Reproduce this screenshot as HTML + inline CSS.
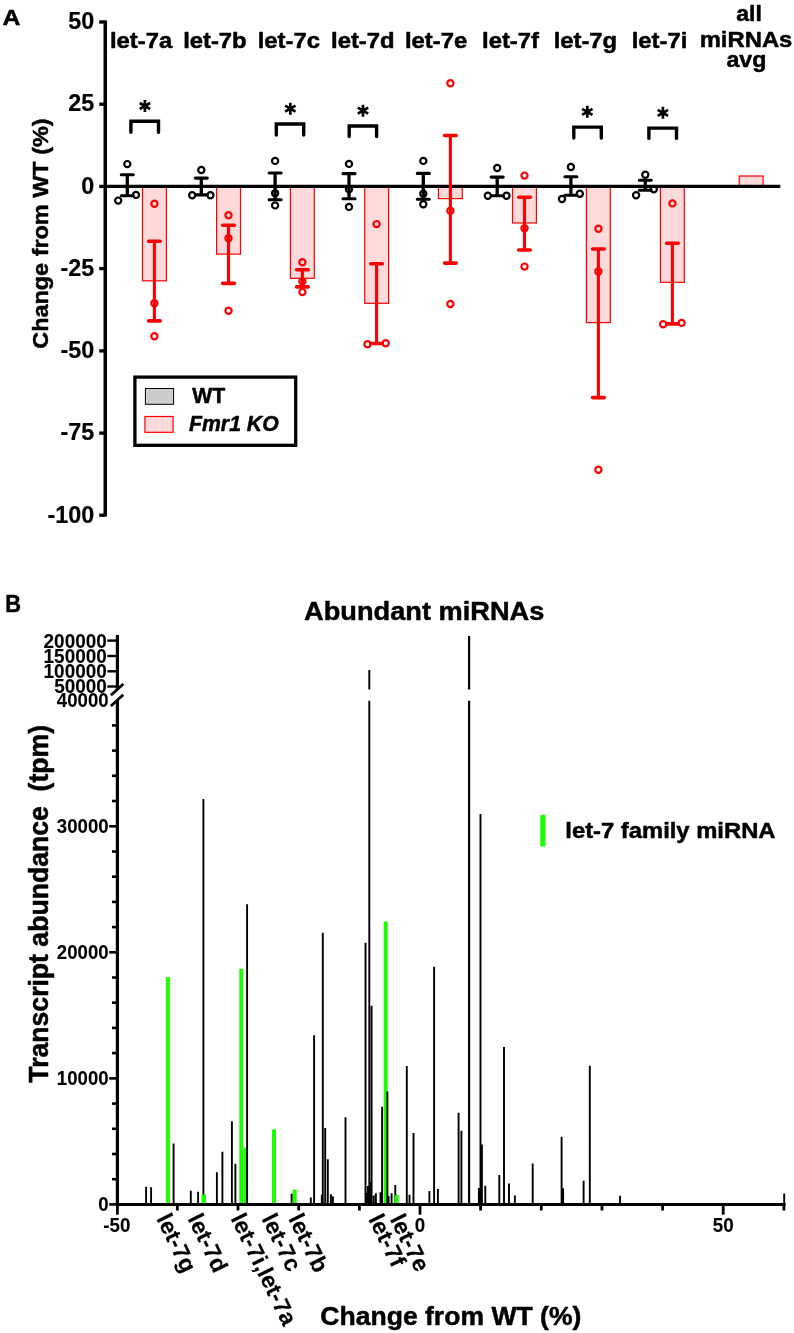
<!DOCTYPE html>
<html><head><meta charset="utf-8"><title>Figure</title>
<style>
html,body{margin:0;padding:0;background:#fff;}
svg{display:block;font-family:"Liberation Sans", sans-serif;will-change:transform;}
text{font-family:"Liberation Sans", sans-serif;fill:#000;stroke:#000;stroke-width:0.5px;stroke-linejoin:round;}
</style></head>
<body>
<svg width="794" height="1333" viewBox="0 0 794 1333">
<rect x="0" y="0" width="794" height="1333" fill="#fff"/>
<line x1="105.25" y1="20.5" x2="105.25" y2="516.4" stroke="#000" stroke-width="3.5"/>
<line x1="99.2" y1="22.0" x2="105.25" y2="22.0" stroke="#000" stroke-width="3.3"/>
<text transform="translate(94.2,29.2) scale(0.95,1.0)" font-size="24.6" font-weight="bold" text-anchor="end" style="stroke-width:0.2px">50</text>
<line x1="99.2" y1="104.2" x2="105.25" y2="104.2" stroke="#000" stroke-width="3.3"/>
<text transform="translate(94.2,111.4) scale(0.95,1.0)" font-size="24.6" font-weight="bold" text-anchor="end" style="stroke-width:0.2px">25</text>
<line x1="99.2" y1="186.4" x2="105.25" y2="186.4" stroke="#000" stroke-width="3.3"/>
<text transform="translate(94.2,193.6) scale(0.95,1.0)" font-size="24.6" font-weight="bold" text-anchor="end" style="stroke-width:0.2px">0</text>
<line x1="99.2" y1="268.6" x2="105.25" y2="268.6" stroke="#000" stroke-width="3.3"/>
<text transform="translate(94.2,275.8) scale(0.95,1.0)" font-size="24.6" font-weight="bold" text-anchor="end" style="stroke-width:0.2px">-25</text>
<line x1="99.2" y1="350.9" x2="105.25" y2="350.9" stroke="#000" stroke-width="3.3"/>
<text transform="translate(94.2,358.1) scale(0.95,1.0)" font-size="24.6" font-weight="bold" text-anchor="end" style="stroke-width:0.2px">-50</text>
<line x1="99.2" y1="433.1" x2="105.25" y2="433.1" stroke="#000" stroke-width="3.3"/>
<text transform="translate(94.2,440.2) scale(0.95,1.0)" font-size="24.6" font-weight="bold" text-anchor="end" style="stroke-width:0.2px">-75</text>
<line x1="99.2" y1="515.2" x2="105.25" y2="515.2" stroke="#000" stroke-width="3.3"/>
<text transform="translate(94.2,522.5) scale(0.95,1.0)" font-size="24.6" font-weight="bold" text-anchor="end" style="stroke-width:0.2px">-100</text>
<text transform="translate(47.9,233.6) rotate(-90) scale(1.0,0.975)" font-size="23.45" font-weight="bold" text-anchor="middle">Change from WT (%)</text>
<text transform="translate(2.5,24.7) scale(1.11,1.0)" font-size="22.3" font-weight="bold" text-anchor="start">A</text>
<text transform="translate(141.1,47.7) scale(1.078,1.0)" font-size="22.1" font-weight="bold" text-anchor="middle">let-7a</text>
<text transform="translate(214.9,47.7) scale(1.078,1.0)" font-size="22.1" font-weight="bold" text-anchor="middle">let-7b</text>
<text transform="translate(288.8,47.7) scale(1.078,1.0)" font-size="22.1" font-weight="bold" text-anchor="middle">let-7c</text>
<text transform="translate(362.8,47.7) scale(1.078,1.0)" font-size="22.1" font-weight="bold" text-anchor="middle">let-7d</text>
<text transform="translate(436.1,47.7) scale(1.078,1.0)" font-size="22.1" font-weight="bold" text-anchor="middle">let-7e</text>
<text transform="translate(510.5,47.7) scale(1.078,1.0)" font-size="22.1" font-weight="bold" text-anchor="middle">let-7f</text>
<text transform="translate(585.4,47.7) scale(1.078,1.0)" font-size="22.1" font-weight="bold" text-anchor="middle">let-7g</text>
<text transform="translate(659.5,47.7) scale(1.078,1.0)" font-size="22.1" font-weight="bold" text-anchor="middle">let-7i</text>
<text transform="translate(749.1,21.0) scale(1.045,1.0)" font-size="22.0" font-weight="bold" text-anchor="middle">all</text>
<text transform="translate(746.0,46.8) scale(1.055,1.0)" font-size="22.6" font-weight="bold" text-anchor="middle">miRNAs</text>
<text transform="translate(746.4,66.9) scale(1.04,1.0)" font-size="22.3" font-weight="bold" text-anchor="middle">avg</text>
<rect x="142.5" y="186.4" width="23.9" height="94.4" fill="#ffdada" stroke="#ff0000" stroke-width="1.2"/>
<rect x="216.6" y="186.4" width="23.9" height="67.7" fill="#ffdada" stroke="#ff0000" stroke-width="1.2"/>
<rect x="290.4" y="186.4" width="23.9" height="91.9" fill="#ffdada" stroke="#ff0000" stroke-width="1.2"/>
<rect x="364.7" y="186.4" width="23.9" height="116.9" fill="#ffdada" stroke="#ff0000" stroke-width="1.2"/>
<rect x="438.4" y="186.4" width="23.9" height="12.2" fill="#ffdada" stroke="#ff0000" stroke-width="1.2"/>
<rect x="512.5" y="186.4" width="23.9" height="36.6" fill="#ffdada" stroke="#ff0000" stroke-width="1.2"/>
<rect x="586.4" y="186.4" width="23.9" height="136.2" fill="#ffdada" stroke="#ff0000" stroke-width="1.2"/>
<rect x="660.4" y="186.4" width="23.9" height="95.9" fill="#ffdada" stroke="#ff0000" stroke-width="1.2"/>
<rect x="739.2" y="176" width="23.9" height="10.4" fill="#ffdada" stroke="#ff0000" stroke-width="1.2"/>
<line x1="103.75" y1="186.45" x2="780.3" y2="186.45" stroke="#000" stroke-width="3.3"/>
<path d="M148.6 241.3H160.2M148.6 320.9H160.2" stroke="#ff0000" stroke-width="3.6" fill="none" stroke-linecap="round"/>
<path d="M154.4 241.3V320.9" stroke="#ff0000" stroke-width="3.1" fill="none"/>
<circle cx="154.4" cy="203.8" r="3.1" fill="none" stroke="#ff0000" stroke-width="2.2"/>
<circle cx="154.4" cy="303.3" r="3.1" fill="none" stroke="#ff0000" stroke-width="2.2"/>
<circle cx="154.4" cy="336.3" r="3.1" fill="none" stroke="#ff0000" stroke-width="2.2"/>
<path d="M222.7 225.3H234.3M222.7 283.4H234.3" stroke="#ff0000" stroke-width="3.6" fill="none" stroke-linecap="round"/>
<path d="M228.5 225.3V283.4" stroke="#ff0000" stroke-width="3.1" fill="none"/>
<circle cx="228.5" cy="215.2" r="3.1" fill="none" stroke="#ff0000" stroke-width="2.2"/>
<circle cx="228.5" cy="238.3" r="3.1" fill="none" stroke="#ff0000" stroke-width="2.2"/>
<circle cx="228.5" cy="310.8" r="3.1" fill="none" stroke="#ff0000" stroke-width="2.2"/>
<path d="M296.6 269.8H308.2M296.6 286.9H308.2" stroke="#ff0000" stroke-width="3.6" fill="none" stroke-linecap="round"/>
<path d="M302.4 269.8V286.9" stroke="#ff0000" stroke-width="3.1" fill="none"/>
<circle cx="302.4" cy="262.2" r="3.1" fill="none" stroke="#ff0000" stroke-width="2.2"/>
<circle cx="302.4" cy="281.4" r="3.1" fill="none" stroke="#ff0000" stroke-width="2.2"/>
<circle cx="302.4" cy="292.1" r="3.1" fill="none" stroke="#ff0000" stroke-width="2.2"/>
<path d="M370.8 263.8H382.4M370.8 343.5H382.4" stroke="#ff0000" stroke-width="3.6" fill="none" stroke-linecap="round"/>
<path d="M376.6 263.8V343.5" stroke="#ff0000" stroke-width="3.1" fill="none"/>
<circle cx="376.6" cy="224.1" r="3.1" fill="none" stroke="#ff0000" stroke-width="2.2"/>
<circle cx="367.5" cy="344.2" r="3.1" fill="none" stroke="#ff0000" stroke-width="2.2"/>
<circle cx="385.7" cy="343.2" r="3.1" fill="none" stroke="#ff0000" stroke-width="2.2"/>
<path d="M444.6 135.5H456.2M444.6 263.1H456.2" stroke="#ff0000" stroke-width="3.6" fill="none" stroke-linecap="round"/>
<path d="M450.4 135.5V263.1" stroke="#ff0000" stroke-width="3.1" fill="none"/>
<circle cx="450.4" cy="83.3" r="3.1" fill="none" stroke="#ff0000" stroke-width="2.2"/>
<circle cx="450.4" cy="210.7" r="3.1" fill="none" stroke="#ff0000" stroke-width="2.2"/>
<circle cx="450.4" cy="304.0" r="3.1" fill="none" stroke="#ff0000" stroke-width="2.2"/>
<path d="M518.7 197.3H530.3M518.7 250.0H530.3" stroke="#ff0000" stroke-width="3.6" fill="none" stroke-linecap="round"/>
<path d="M524.5 197.3V250.0" stroke="#ff0000" stroke-width="3.1" fill="none"/>
<circle cx="524.5" cy="175.6" r="3.1" fill="none" stroke="#ff0000" stroke-width="2.2"/>
<circle cx="524.5" cy="228.3" r="3.1" fill="none" stroke="#ff0000" stroke-width="2.2"/>
<circle cx="524.5" cy="266.6" r="3.1" fill="none" stroke="#ff0000" stroke-width="2.2"/>
<path d="M592.6 249.0H604.2M592.6 397.6H604.2" stroke="#ff0000" stroke-width="3.6" fill="none" stroke-linecap="round"/>
<path d="M598.4 249.0V397.6" stroke="#ff0000" stroke-width="3.1" fill="none"/>
<circle cx="598.4" cy="228.7" r="3.1" fill="none" stroke="#ff0000" stroke-width="2.2"/>
<circle cx="598.4" cy="271.5" r="3.1" fill="none" stroke="#ff0000" stroke-width="2.2"/>
<circle cx="598.4" cy="469.7" r="3.1" fill="none" stroke="#ff0000" stroke-width="2.2"/>
<path d="M666.6 243.3H678.2M666.6 323.9H678.2" stroke="#ff0000" stroke-width="3.6" fill="none" stroke-linecap="round"/>
<path d="M672.4 243.3V323.9" stroke="#ff0000" stroke-width="3.1" fill="none"/>
<circle cx="672.4" cy="203.4" r="3.1" fill="none" stroke="#ff0000" stroke-width="2.2"/>
<circle cx="663.2" cy="324.3" r="3.1" fill="none" stroke="#ff0000" stroke-width="2.2"/>
<circle cx="681.6" cy="322.9" r="3.1" fill="none" stroke="#ff0000" stroke-width="2.2"/>
<path d="M121.3 174.7H133.3M121.3 195.7H133.3" stroke="#000" stroke-width="3.1" fill="none" stroke-linecap="round"/>
<path d="M127.3 174.7V195.7" stroke="#000" stroke-width="3.3" fill="none"/>
<circle cx="127.3" cy="164.1" r="3.1" fill="none" stroke="#000" stroke-width="2.2"/>
<circle cx="136.0" cy="194.9" r="3.1" fill="none" stroke="#000" stroke-width="2.2"/>
<circle cx="118.2" cy="200.6" r="3.1" fill="none" stroke="#000" stroke-width="2.2"/>
<path d="M195.3 178.1H207.3M195.3 194.9H207.3" stroke="#000" stroke-width="3.1" fill="none" stroke-linecap="round"/>
<path d="M201.3 178.1V194.9" stroke="#000" stroke-width="3.3" fill="none"/>
<circle cx="201.3" cy="170.0" r="3.1" fill="none" stroke="#000" stroke-width="2.2"/>
<circle cx="192.2" cy="195.3" r="3.1" fill="none" stroke="#000" stroke-width="2.2"/>
<circle cx="210.4" cy="195.3" r="3.1" fill="none" stroke="#000" stroke-width="2.2"/>
<path d="M269.1 173.0H281.1M269.1 199.8H281.1" stroke="#000" stroke-width="3.1" fill="none" stroke-linecap="round"/>
<path d="M275.1 173.0V199.8" stroke="#000" stroke-width="3.3" fill="none"/>
<circle cx="275.1" cy="160.9" r="3.1" fill="none" stroke="#000" stroke-width="2.2"/>
<circle cx="275.1" cy="193.3" r="3.1" fill="none" stroke="#000" stroke-width="2.2"/>
<circle cx="275.1" cy="205.4" r="3.1" fill="none" stroke="#000" stroke-width="2.2"/>
<path d="M343.0 173.6H355.0M343.0 198.8H355.0" stroke="#000" stroke-width="3.1" fill="none" stroke-linecap="round"/>
<path d="M349.0 173.6V198.8" stroke="#000" stroke-width="3.3" fill="none"/>
<circle cx="349.0" cy="163.9" r="3.1" fill="none" stroke="#000" stroke-width="2.2"/>
<circle cx="349.0" cy="189.2" r="3.1" fill="none" stroke="#000" stroke-width="2.2"/>
<circle cx="349.0" cy="206.9" r="3.1" fill="none" stroke="#000" stroke-width="2.2"/>
<path d="M417.3 173.4H429.3M417.3 199.3H429.3" stroke="#000" stroke-width="3.1" fill="none" stroke-linecap="round"/>
<path d="M423.3 173.4V199.3" stroke="#000" stroke-width="3.3" fill="none"/>
<circle cx="423.3" cy="160.9" r="3.1" fill="none" stroke="#000" stroke-width="2.2"/>
<circle cx="423.3" cy="193.7" r="3.1" fill="none" stroke="#000" stroke-width="2.2"/>
<circle cx="423.3" cy="204.2" r="3.1" fill="none" stroke="#000" stroke-width="2.2"/>
<path d="M491.2 177.1H503.2M491.2 195.7H503.2" stroke="#000" stroke-width="3.1" fill="none" stroke-linecap="round"/>
<path d="M497.2 177.1V195.7" stroke="#000" stroke-width="3.3" fill="none"/>
<circle cx="497.2" cy="168.0" r="3.1" fill="none" stroke="#000" stroke-width="2.2"/>
<circle cx="487.8" cy="195.7" r="3.1" fill="none" stroke="#000" stroke-width="2.2"/>
<circle cx="506.5" cy="195.7" r="3.1" fill="none" stroke="#000" stroke-width="2.2"/>
<path d="M564.9 176.7H576.9M564.9 195.3H576.9" stroke="#000" stroke-width="3.1" fill="none" stroke-linecap="round"/>
<path d="M570.9 176.7V195.3" stroke="#000" stroke-width="3.3" fill="none"/>
<circle cx="570.9" cy="167.0" r="3.1" fill="none" stroke="#000" stroke-width="2.2"/>
<circle cx="579.8" cy="193.7" r="3.1" fill="none" stroke="#000" stroke-width="2.2"/>
<circle cx="562.0" cy="199.0" r="3.1" fill="none" stroke="#000" stroke-width="2.2"/>
<path d="M639.3 180.3H651.3M639.3 190.3H651.3" stroke="#000" stroke-width="3.1" fill="none" stroke-linecap="round"/>
<path d="M645.3 180.3V190.3" stroke="#000" stroke-width="3.3" fill="none"/>
<circle cx="645.3" cy="174.7" r="3.1" fill="none" stroke="#000" stroke-width="2.2"/>
<circle cx="653.8" cy="189.2" r="3.1" fill="none" stroke="#000" stroke-width="2.2"/>
<circle cx="636.1" cy="195.3" r="3.1" fill="none" stroke="#000" stroke-width="2.2"/>
<path d="M130.9 132.3V121.3H158.5V132.3" fill="none" stroke="#000" stroke-width="3.4" stroke-linecap="round" stroke-linejoin="miter"/>
<path d="M144.9 100.00V112.00M139.70 103.00L150.10 109.00M139.70 109.00L150.10 103.00" stroke="#000" stroke-width="2.7" fill="none"/>
<path d="M276.3 135.0V124.0H303.7V135.0" fill="none" stroke="#000" stroke-width="3.4" stroke-linecap="round" stroke-linejoin="miter"/>
<path d="M290.3 102.70V114.70M285.10 105.70L295.50 111.70M285.10 111.70L295.50 105.70" stroke="#000" stroke-width="2.7" fill="none"/>
<path d="M349.2 136.6V126.0H376.6V136.6" fill="none" stroke="#000" stroke-width="3.4" stroke-linecap="round" stroke-linejoin="miter"/>
<path d="M363.0 104.70V116.70M357.80 107.70L368.20 113.70M357.80 113.70L368.20 107.70" stroke="#000" stroke-width="2.7" fill="none"/>
<path d="M573.8 138.0V127.1H601.3V138.0" fill="none" stroke="#000" stroke-width="3.4" stroke-linecap="round" stroke-linejoin="miter"/>
<path d="M587.3 105.80V117.80M582.10 108.80L592.50 114.80M582.10 114.80L592.50 108.80" stroke="#000" stroke-width="2.7" fill="none"/>
<path d="M648.9 138.4V128.1H676.5V138.4" fill="none" stroke="#000" stroke-width="3.4" stroke-linecap="round" stroke-linejoin="miter"/>
<path d="M662.9 106.80V118.80M657.70 109.80L668.10 115.80M657.70 115.80L668.10 109.80" stroke="#000" stroke-width="2.7" fill="none"/>
<rect x="134.9" y="377.1" width="160.8" height="68.2" fill="#fff" stroke="#000" stroke-width="3.3"/>
<rect x="145.4" y="388.5" width="28.2" height="15.8" fill="#cccccc" stroke="#000" stroke-width="1"/>
<rect x="144.9" y="416.5" width="28.2" height="15.8" fill="#ffdada" stroke="#ff0000" stroke-width="1.2"/>
<text transform="translate(192.3,402.6) scale(0.947,1.0)" font-size="22.4" font-weight="bold" text-anchor="start">WT</text>
<text transform="translate(189.0,431.4) scale(0.975,1.0)" font-size="21.8" font-weight="bold" text-anchor="start" font-style="italic">Fmr1 KO</text>
<text transform="translate(5.2,612.3) scale(0.93,1.0)" font-size="23.5" font-weight="bold" text-anchor="start">B</text>
<text transform="translate(424.2,619.8) scale(1.0,0.965)" font-size="27.2" font-weight="bold" text-anchor="middle">Abundant miRNAs</text>
<rect x="165.9" y="977.1" width="4" height="227.4" fill="#1cff00"/>
<rect x="201.7" y="1194.6" width="4" height="9.9" fill="#1cff00"/>
<rect x="239.3" y="968.8" width="4" height="235.7" fill="#1cff00"/>
<rect x="243.7" y="1147.6" width="4" height="56.9" fill="#1cff00"/>
<rect x="272.0" y="1129.4" width="4" height="75.1" fill="#1cff00"/>
<rect x="292.7" y="1189.5" width="4" height="15.0" fill="#1cff00"/>
<rect x="383.7" y="921.5" width="4" height="283.0" fill="#1cff00"/>
<rect x="394.5" y="1195.2" width="4" height="9.3" fill="#1cff00"/>
<path d="M146.1 1186.7V1204.5M151.1 1187.3V1204.5M173.6 1143.5V1204.5M190.8 1190.7V1204.5M198.1 1191.7V1204.5M203.4 799.1V1204.5M216.9 1172.3V1204.5M222.4 1151.8V1204.5M231.9 1121.3V1204.5M235.4 1163.8V1204.5M247.1 904.3V1204.5M291.6 1193.8V1204.5M310.8 1197.6V1204.5M314.1 1035.2V1204.5M321.8 1194.8V1204.5M322.8 932.8V1204.5M325.2 1128.0V1204.5M327.8 1159.3V1204.5M330.9 1194.2V1204.5M332.9 1196.2V1204.5M345.5 1117.2V1204.5M365.5 942.7V1204.5M371.6 1005.8V1204.5M366.6 1193.0V1204.5M367.8 1186.0V1204.5M370.4 1182.0V1204.5M373.8 1195.6V1204.5M375.9 1193.2V1204.5M380.5 1192.2V1204.5M382.1 1106.7V1204.5M387.4 1091.5V1204.5M388.6 1196.0V1204.5M391.6 1193.2V1204.5M395.3 1185.1V1204.5M406.8 1066.0V1204.5M409.5 1194.8V1204.5M413.5 1133.0V1204.5M429.4 1191.1V1204.5M434.1 966.7V1204.5M437.9 1189.1V1204.5M458.6 1112.8V1204.5M461.4 1130.8V1204.5M480.5 814.0V1204.5M481.9 1144.6V1204.5M478.9 1188.1V1204.5M485.3 1185.7V1204.5M499.3 1174.9V1204.5M504.0 1046.9V1204.5M509.0 1183.4V1204.5M514.9 1195.6V1204.5M532.7 1163.4V1204.5M561.6 1136.7V1204.5M563.1 1188.2V1204.5M583.6 1180.8V1204.5M589.8 1065.8V1204.5M620.1 1195.8V1204.5M784.2 1193.5V1204.5M369.3 700.7V1204.5M369.3 669.9V689.4" stroke="#000" stroke-width="1.9" fill="none"/>
<path d="M469.1 700.7V1204.5M469.1 635.9V689.4" stroke="#000" stroke-width="2.2" fill="none"/>
<rect x="201.7" y="1194.6" width="4" height="9.9" fill="#1cff00"/>
<rect x="394.5" y="1195.2" width="4" height="9.3" fill="#1cff00"/>
<line x1="117.4" y1="700.3" x2="117.4" y2="1206.0" stroke="#000" stroke-width="3.2"/>
<line x1="117.4" y1="635" x2="117.4" y2="689" stroke="#000" stroke-width="3.2"/>
<line x1="109.2" y1="1204.4" x2="117.4" y2="1204.4" stroke="#000" stroke-width="2.6"/>
<line x1="112" y1="1179.2" x2="117.4" y2="1179.2" stroke="#000" stroke-width="2.6"/>
<line x1="112" y1="1154.0" x2="117.4" y2="1154.0" stroke="#000" stroke-width="2.6"/>
<line x1="112" y1="1128.8" x2="117.4" y2="1128.8" stroke="#000" stroke-width="2.6"/>
<line x1="112" y1="1103.6" x2="117.4" y2="1103.6" stroke="#000" stroke-width="2.6"/>
<line x1="109.2" y1="1078.4" x2="117.4" y2="1078.4" stroke="#000" stroke-width="2.6"/>
<line x1="112" y1="1053.1" x2="117.4" y2="1053.1" stroke="#000" stroke-width="2.6"/>
<line x1="112" y1="1027.9" x2="117.4" y2="1027.9" stroke="#000" stroke-width="2.6"/>
<line x1="112" y1="1002.7" x2="117.4" y2="1002.7" stroke="#000" stroke-width="2.6"/>
<line x1="112" y1="977.5" x2="117.4" y2="977.5" stroke="#000" stroke-width="2.6"/>
<line x1="109.2" y1="952.3" x2="117.4" y2="952.3" stroke="#000" stroke-width="2.6"/>
<line x1="112" y1="927.1" x2="117.4" y2="927.1" stroke="#000" stroke-width="2.6"/>
<line x1="112" y1="901.9" x2="117.4" y2="901.9" stroke="#000" stroke-width="2.6"/>
<line x1="112" y1="876.7" x2="117.4" y2="876.7" stroke="#000" stroke-width="2.6"/>
<line x1="112" y1="851.5" x2="117.4" y2="851.5" stroke="#000" stroke-width="2.6"/>
<line x1="109.2" y1="826.3" x2="117.4" y2="826.3" stroke="#000" stroke-width="2.6"/>
<line x1="112" y1="801.0" x2="117.4" y2="801.0" stroke="#000" stroke-width="2.6"/>
<line x1="112" y1="775.8" x2="117.4" y2="775.8" stroke="#000" stroke-width="2.6"/>
<line x1="112" y1="750.6" x2="117.4" y2="750.6" stroke="#000" stroke-width="2.6"/>
<line x1="112" y1="725.4" x2="117.4" y2="725.4" stroke="#000" stroke-width="2.6"/>
<text transform="translate(108.6,1211.3) scale(0.955,1.0)" font-size="19.5" font-weight="bold" text-anchor="end" style="stroke-width:0.1px">0</text>
<text transform="translate(108.6,1085.3) scale(0.955,1.0)" font-size="19.5" font-weight="bold" text-anchor="end" style="stroke-width:0.1px">10000</text>
<text transform="translate(108.6,959.2) scale(0.955,1.0)" font-size="19.5" font-weight="bold" text-anchor="end" style="stroke-width:0.1px">20000</text>
<text transform="translate(108.6,833.2) scale(0.955,1.0)" font-size="19.5" font-weight="bold" text-anchor="end" style="stroke-width:0.1px">30000</text>
<text transform="translate(108.6,707.3) scale(0.955,1.0)" font-size="19.5" font-weight="bold" text-anchor="end" style="stroke-width:0.1px">40000</text>
<line x1="107.3" y1="640.6" x2="117.4" y2="640.6" stroke="#000" stroke-width="2.4"/>
<text transform="translate(106.7,647.5) scale(0.965,1.0)" font-size="19.6" font-weight="bold" text-anchor="end" style="stroke-width:0.1px">200000</text>
<line x1="107.3" y1="656" x2="117.4" y2="656" stroke="#000" stroke-width="2.4"/>
<text transform="translate(106.7,662.9) scale(0.965,1.0)" font-size="19.6" font-weight="bold" text-anchor="end" style="stroke-width:0.1px">150000</text>
<line x1="107.3" y1="671.3" x2="117.4" y2="671.3" stroke="#000" stroke-width="2.4"/>
<text transform="translate(106.7,678.2) scale(0.965,1.0)" font-size="19.6" font-weight="bold" text-anchor="end" style="stroke-width:0.1px">100000</text>
<line x1="107.3" y1="686.5" x2="117.4" y2="686.5" stroke="#000" stroke-width="2.4"/>
<text transform="translate(106.7,693.4) scale(0.965,1.0)" font-size="19.6" font-weight="bold" text-anchor="end" style="stroke-width:0.1px">50000</text>
<path d="M110.9 695.3L123.3 684M110.9 706L123.3 694.8" stroke="#000" stroke-width="2.8" fill="none"/>
<line x1="116.2" y1="1204.5" x2="785.6" y2="1204.5" stroke="#000" stroke-width="3.1"/>
<line x1="117.4" y1="1204.5" x2="117.4" y2="1214.7" stroke="#000" stroke-width="2.8"/>
<line x1="177.4" y1="1204.5" x2="177.4" y2="1210.5" stroke="#000" stroke-width="2.8"/>
<line x1="238.0" y1="1204.5" x2="238.0" y2="1210.5" stroke="#000" stroke-width="2.8"/>
<line x1="298.7" y1="1204.5" x2="298.7" y2="1210.5" stroke="#000" stroke-width="2.8"/>
<line x1="359.4" y1="1204.5" x2="359.4" y2="1210.5" stroke="#000" stroke-width="2.8"/>
<line x1="420.0" y1="1204.5" x2="420.0" y2="1214.7" stroke="#000" stroke-width="2.8"/>
<line x1="480.6" y1="1204.5" x2="480.6" y2="1210.5" stroke="#000" stroke-width="2.8"/>
<line x1="541.3" y1="1204.5" x2="541.3" y2="1210.5" stroke="#000" stroke-width="2.8"/>
<line x1="602.0" y1="1204.5" x2="602.0" y2="1210.5" stroke="#000" stroke-width="2.8"/>
<line x1="662.6" y1="1204.5" x2="662.6" y2="1210.5" stroke="#000" stroke-width="2.8"/>
<line x1="723.2" y1="1204.5" x2="723.2" y2="1214.7" stroke="#000" stroke-width="2.8"/>
<line x1="783.9" y1="1204.5" x2="783.9" y2="1210.5" stroke="#000" stroke-width="2.8"/>
<text transform="translate(116.8,1232.2) scale(0.965,1.0)" font-size="19.5" font-weight="bold" text-anchor="middle" style="stroke-width:0.1px">-50</text>
<text transform="translate(420.0,1232.2) scale(0.965,1.0)" font-size="19.5" font-weight="bold" text-anchor="middle" style="stroke-width:0.1px">0</text>
<text transform="translate(723.2,1232.2) scale(0.965,1.0)" font-size="19.5" font-weight="bold" text-anchor="middle" style="stroke-width:0.1px">50</text>
<text transform="translate(450.8,1325.3) scale(1.0,0.975)" font-size="26.55" font-weight="bold" text-anchor="middle">Change from WT (%)</text>
<text transform="translate(48.4,903.8) rotate(-90) scale(1,1.03)" font-size="26.6" font-weight="bold" text-anchor="middle" xml:space="preserve" style="white-space:pre">Transcript abundance  (tpm)</text>
<text transform="translate(155.9,1218.6) rotate(64)" font-size="23.2" font-weight="bold" text-anchor="start" style="stroke-width:0.15px">let-7g</text>
<text transform="translate(187.2,1218.6) rotate(64)" font-size="23.2" font-weight="bold" text-anchor="start" style="stroke-width:0.15px">let-7d</text>
<text transform="translate(230.3,1218.3) rotate(64)" font-size="23.2" font-weight="bold" text-anchor="start" style="stroke-width:0.15px">let-7i,let-7a</text>
<text transform="translate(261.3,1218.6) rotate(64)" font-size="23.2" font-weight="bold" text-anchor="start" style="stroke-width:0.15px">let-7c</text>
<text transform="translate(287.9,1218.6) rotate(64)" font-size="23.2" font-weight="bold" text-anchor="start" style="stroke-width:0.15px">let-7b</text>
<text transform="translate(368.0,1219.0) rotate(64)" font-size="23.2" font-weight="bold" text-anchor="start" style="stroke-width:0.15px">let-7f</text>
<text transform="translate(389.5,1219.0) rotate(64)" font-size="23.2" font-weight="bold" text-anchor="start" style="stroke-width:0.15px">let-7e</text>
<rect x="540.3" y="814.8" width="5.2" height="31.8" rx="1.2" fill="#1cff00"/>
<text transform="translate(565.3,837.7) scale(1.087,1.0)" font-size="21.9" font-weight="bold" text-anchor="start">let-7 family miRNA</text>
</svg>
</body></html>
